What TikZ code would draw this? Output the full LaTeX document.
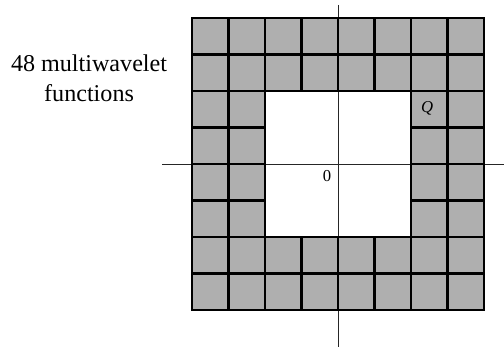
\documentclass[tikz,border=0pt]{standalone}
\usepackage{fontspec}
\setmainfont{Liberation Serif}
\definecolor{cellgray}{HTML}{AFAFAF}
\begin{document}
\begin{tikzpicture}[
  gridline/.style={line width=1.8pt, line cap=rect},
  axisline/.style={line width=0.6pt, black!85},
  lbl/.style={inner sep=0pt, font=\fontsize{13}{15}\selectfont}
]
\useasboundingbox (-9.26,-5.068) rectangle (4.548,4.493);
% shaded ring
\fill[cellgray, even odd rule] (-4,-4) rectangle (4,4) (-2,-2) rectangle (2,2);
% axes
\draw[axisline] (0,4.356) -- (0,-5.01);
\draw[axisline] (-4.82,0) -- (4.548,0);
% grid lines of the ring
\foreach \i in {-4,...,4} {
  \draw[gridline] (\i,-4) -- (\i,-2);
  \draw[gridline] (\i,2) -- (\i,4);
  \draw[gridline] (-4,\i) -- (-2,\i);
  \draw[gridline] (2,\i) -- (4,\i);
}
\foreach \y in {-4,-3,-2,2,3,4} \draw[gridline] (-4,\y) -- (4,\y);
\foreach \x in {-4,-3,-2,2,3,4} \draw[gridline] (\x,-4) -- (\x,4);
% labels
\node[lbl] (zero) at (-0.3,-0.33) {0};
\node[lbl] (q) at (2.44,1.53) {\textit{Q}};
\node[align=center, inner sep=0pt, font=\fontsize{18.8}{23.4}\selectfont, anchor=base] (count) at (-6.82,1.70) {48 multiwavelet\\functions};
\end{tikzpicture}
\end{document}
